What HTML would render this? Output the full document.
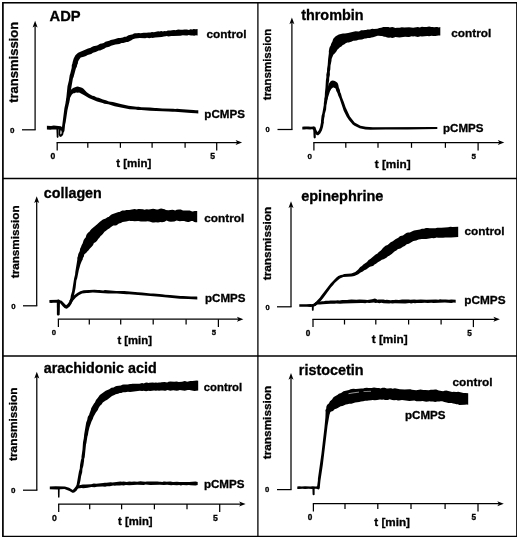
<!DOCTYPE html>
<html><head><meta charset="utf-8"><title>Platelet aggregation</title>
<style>
html,body{margin:0;padding:0;background:#fff;}
body{width:520px;height:539px;overflow:hidden;}
svg{display:block;}
svg text{font-family:"Liberation Sans", Arial, Helvetica, sans-serif;font-weight:bold;fill:#000;stroke:#000;stroke-width:0.32px;}
</style></head><body>
<svg width="520" height="539" viewBox="0 0 520 539">
<rect width="520" height="539" fill="#fff"/>
<g filter="url(#soft)">
<rect x="2.9" y="2.7" width="514.1" height="533.9" fill="none" stroke="#000" stroke-width="1.7"/>
<line x1="257.9" y1="2.7" x2="257.9" y2="536.6" stroke="#000" stroke-width="1.3"/>
<line x1="2.7" y1="178.5" x2="517" y2="178.5" stroke="#000" stroke-width="1.3"/>
<line x1="2.7" y1="356" x2="517" y2="356" stroke="#000" stroke-width="1.3"/>
<line x1="35.10" y1="25.30" x2="35.10" y2="129.80" stroke="#000" stroke-width="1.25"/>
<polygon points="35.10,20.70 32.60,27.50 35.10,25.90 37.60,27.50" fill="#000"/>
<line x1="22.00" y1="129.80" x2="35.70" y2="129.80" stroke="#000" stroke-width="1.25"/>
<text x="12.20" y="132.68" font-size="8.00" text-anchor="middle">0</text>
<text x="18.20" y="102.80" font-size="13.00" text-anchor="start" transform="rotate(-90 18.20 102.80)">transmission</text>
<text x="49.60" y="20.80" font-size="14.70" text-anchor="start">ADP</text>
<line x1="56.60" y1="142.60" x2="237.80" y2="142.60" stroke="#000" stroke-width="1.25"/>
<polygon points="242.10,142.60 235.60,140.10 237.20,142.60 235.60,145.10" fill="#000"/>
<line x1="57.20" y1="142.60" x2="57.20" y2="150.40" stroke="#000" stroke-width="1.25"/>
<line x1="87.80" y1="142.60" x2="87.80" y2="147.80" stroke="#000" stroke-width="1.25"/>
<line x1="120.40" y1="142.60" x2="120.40" y2="147.80" stroke="#000" stroke-width="1.25"/>
<line x1="152.10" y1="142.60" x2="152.10" y2="147.80" stroke="#000" stroke-width="1.25"/>
<line x1="185.10" y1="142.60" x2="185.10" y2="147.80" stroke="#000" stroke-width="1.25"/>
<line x1="216.70" y1="142.60" x2="216.70" y2="150.40" stroke="#000" stroke-width="1.25"/>
<text x="52.80" y="158.80" font-size="8.60" text-anchor="middle">0</text>
<text x="212.60" y="158.80" font-size="8.60" text-anchor="middle">5</text>
<text x="116.20" y="166.60" font-size="11.50" text-anchor="start">t [min]</text>
<text x="206.50" y="38.10" font-size="11.80" text-anchor="start">control</text>
<text x="204.30" y="117.50" font-size="11.60" text-anchor="start">pCMPS</text>
<path d="M51.1,125.9 46.9,125.7 46.9,129.6 50.3,129.7 52.0,129.4 56.2,129.6 58.7,129.4 60.5,129.7 61.7,129.1 62.2,128.3 61.9,126.9 60.8,126.2 53.7,125.6Z" fill="#000"/>
<path d="M56.8,127.2 56.4,128.0 56.7,137.0 57.0,137.6 57.6,137.9 58.2,137.6 58.5,137.0 58.4,128.0 58.2,127.4 57.8,127.1Z" fill="#000"/>
<path d="M59.2,129.1 58.7,129.8 58.5,134.4 59.6,136.4 60.9,136.9 62.6,135.4 63.2,134.4 63.7,131.7 63.6,130.6 62.1,128.5 60.9,128.3ZM60.7,134.6 60.3,133.4 60.5,130.6 61.2,130.2 61.8,131.5 61.4,133.7Z" fill="#000"/>
<path d="M64.4,108.2 61.5,131.0 61.9,132.0 62.9,132.4 63.4,132.3 64.1,131.8 64.5,130.5 65.1,124.5 65.7,122.1 67.4,110.6 69.2,102.4 69.0,101.0 67.8,100.3 66.5,100.5 65.8,101.7Z" fill="#000"/>
<path d="M71.7,67.7 70.3,73.6 69.7,75.3 68.9,80.4 67.5,86.3 66.4,96.9 65.7,102.0 66.2,103.3 67.1,103.8 68.5,103.5 69.3,102.3 70.6,91.9 72.9,78.6 73.6,77.0 75.8,68.8 76.9,66.6 77.2,64.7 77.8,63.8 78.1,61.6 78.9,60.0 80.7,57.4 82.9,57.1 84.5,56.4 86.0,56.0 87.6,54.9 91.2,54.1 93.0,52.7 95.7,52.1 98.8,50.6 100.1,50.4 104.6,48.4 106.0,47.6 109.2,46.8 111.1,45.7 115.4,44.6 119.4,44.0 121.6,43.0 123.3,43.0 126.5,42.1 128.0,42.0 131.9,40.1 132.8,39.3 135.2,38.4 139.8,38.0 145.2,38.2 147.0,37.8 149.3,38.3 151.3,37.8 152.5,37.9 155.1,37.5 161.8,37.0 163.9,36.4 165.8,36.3 166.7,36.0 168.5,36.4 169.8,36.3 171.3,35.9 173.3,36.1 180.5,35.7 182.8,35.3 186.1,35.6 187.5,35.5 188.5,35.1 191.0,35.5 192.6,35.4 194.2,35.7 195.9,35.2 197.6,35.4 197.6,29.0 195.8,29.2 193.5,29.0 192.5,29.4 190.3,29.3 189.0,29.9 186.9,29.4 184.5,29.4 182.6,29.8 180.9,29.8 178.1,29.4 175.6,30.2 174.1,30.1 171.9,30.3 171.0,30.6 167.9,30.6 166.1,31.2 164.5,30.9 162.8,31.4 161.3,31.1 159.4,31.4 158.1,31.3 153.9,32.2 151.9,32.1 150.5,32.6 148.5,32.4 146.6,32.8 143.6,32.7 140.5,33.2 138.8,33.0 136.9,33.3 135.1,33.2 133.8,33.5 132.9,34.2 128.5,35.3 126.1,36.7 124.5,36.8 122.9,37.4 120.1,38.0 118.2,38.0 114.3,39.3 110.7,40.0 109.2,40.7 105.4,41.8 103.7,42.9 101.9,43.5 100.1,43.7 98.5,44.8 97.1,45.4 93.3,46.3 91.3,47.3 90.7,47.8 88.0,48.4 78.1,52.7 75.4,55.2 73.7,58.6 72.6,62.2 72.5,63.3 71.8,65.1Z" fill="#000"/>
<path d="M73.1,88.0 70.9,89.7 68.5,92.9 66.7,98.5 66.1,101.7 66.3,102.8 67.0,103.3 67.8,103.4 68.7,102.8 70.0,97.9 71.7,94.7 72.7,93.8 73.4,93.2 74.4,93.2 76.0,92.5 77.8,92.8 79.1,92.6 83.8,94.9 88.8,98.1 97.1,101.4 102.6,103.0 104.4,103.7 108.3,104.3 114.6,106.2 129.6,109.2 135.5,109.5 137.9,110.0 141.1,110.0 150.0,110.7 168.5,111.4 172.6,111.8 174.9,111.7 191.1,113.0 195.8,113.2 198.3,113.5 198.3,110.2 197.9,110.2 195.9,110.2 193.6,109.9 189.6,109.8 179.2,109.1 177.4,108.8 175.1,109.1 173.4,108.7 162.3,108.4 156.5,107.9 154.9,108.1 150.0,107.5 141.2,107.2 138.7,106.8 136.4,106.8 128.6,105.7 120.7,104.1 112.9,102.0 109.0,101.4 105.9,100.2 103.0,99.6 98.6,97.8 96.9,97.4 94.0,96.1 92.4,95.7 89.2,93.9 86.8,92.2 83.5,88.8 82.0,87.7 77.8,86.6 76.4,86.8Z" fill="#000"/>
<line x1="291.90" y1="22.00" x2="291.90" y2="129.50" stroke="#000" stroke-width="1.25"/>
<polygon points="291.90,17.40 289.40,24.20 291.90,22.60 294.40,24.20" fill="#000"/>
<line x1="277.50" y1="129.50" x2="292.50" y2="129.50" stroke="#000" stroke-width="1.25"/>
<text x="267.60" y="132.20" font-size="7.50" text-anchor="middle">0</text>
<text x="271.30" y="100.20" font-size="11.50" text-anchor="start" transform="rotate(-90 271.30 100.20)">transmission</text>
<text x="301.20" y="19.50" font-size="14.40" text-anchor="start">thrombin</text>
<line x1="313.30" y1="142.60" x2="500.00" y2="142.60" stroke="#000" stroke-width="1.25"/>
<polygon points="504.30,142.60 497.80,140.10 499.40,142.60 497.80,145.10" fill="#000"/>
<line x1="313.90" y1="142.60" x2="313.90" y2="150.40" stroke="#000" stroke-width="1.25"/>
<line x1="345.80" y1="142.60" x2="345.80" y2="147.80" stroke="#000" stroke-width="1.25"/>
<line x1="378.00" y1="142.60" x2="378.00" y2="147.80" stroke="#000" stroke-width="1.25"/>
<line x1="411.50" y1="142.60" x2="411.50" y2="147.80" stroke="#000" stroke-width="1.25"/>
<line x1="445.40" y1="142.60" x2="445.40" y2="147.80" stroke="#000" stroke-width="1.25"/>
<line x1="478.10" y1="142.60" x2="478.10" y2="150.40" stroke="#000" stroke-width="1.25"/>
<text x="309.70" y="158.60" font-size="8.00" text-anchor="middle">0</text>
<text x="473.80" y="158.60" font-size="8.00" text-anchor="middle">5</text>
<text x="374.70" y="168.20" font-size="11.80" text-anchor="start">t [min]</text>
<text x="451.30" y="36.80" font-size="11.80" text-anchor="start">control</text>
<text x="443.00" y="132.00" font-size="11.60" text-anchor="start">pCMPS</text>
<path d="M305.9,126.6 304.1,126.5 302.3,126.7 302.3,129.4 304.1,129.5 306.6,129.3 310.1,129.6 311.8,129.3 313.5,129.5 314.4,129.2 315.0,128.3 314.8,127.1 313.8,126.4 310.9,126.7 308.4,126.5Z" fill="#000"/>
<path d="M313.7,126.8 313.2,127.8 313.6,137.3 313.9,138.1 314.7,138.4 315.5,138.1 315.8,137.3 315.6,127.8 315.4,127.1 314.9,126.7Z" fill="#000"/>
<path d="M312.6,127.1 312.2,127.7 312.3,128.5 313.5,130.0 314.8,133.1 316.3,134.8 317.4,135.3 318.3,135.2 320.2,133.6 321.9,130.4 323.0,126.9 323.7,122.8 323.6,122.0 323.1,121.3 322.3,121.1 321.5,121.3 321.1,121.7 320.1,127.0 319.0,130.0 317.6,132.1 317.1,131.6 315.7,128.5 314.4,127.1 313.5,126.7Z" fill="#000"/>
<path d="M325.5,87.2 324.9,93.1 324.8,96.1 323.8,103.5 323.8,104.9 322.3,113.5 321.6,115.8 321.0,120.9 321.1,123.0 321.6,123.6 322.3,123.8 323.2,123.4 323.6,122.7 324.2,117.9 324.6,116.4 324.8,114.0 326.1,109.4 326.4,105.2 326.8,103.8 327.7,97.9 328.7,82.8 329.2,80.3 329.2,77.9 329.9,74.7 329.8,71.8 330.3,69.5 330.5,65.4 331.5,60.8 331.6,58.9 333.3,54.8 334.2,54.1 336.2,51.8 337.3,49.7 339.0,48.3 339.9,47.2 341.4,46.4 342.8,45.0 344.1,44.4 345.7,43.2 347.3,42.5 348.7,42.4 351.9,41.4 353.1,40.7 354.1,40.8 356.6,40.5 358.7,39.7 362.0,39.4 364.8,38.6 366.0,38.6 367.7,38.1 369.9,38.0 371.4,37.4 373.1,37.3 377.6,35.7 378.7,35.7 381.0,36.1 382.1,35.9 384.1,36.7 385.2,36.7 387.2,37.6 389.0,37.8 390.4,37.6 392.2,37.9 394.3,37.5 395.3,36.9 399.4,37.5 405.1,36.7 408.3,37.1 409.2,37.0 411.5,36.2 413.1,36.5 414.5,36.3 417.9,37.0 420.4,36.3 421.9,36.6 427.3,36.0 429.1,36.2 431.5,35.7 433.2,36.0 435.6,36.1 438.4,35.4 440.3,35.5 440.3,27.0 438.8,27.6 437.3,27.0 436.4,26.9 434.1,27.2 432.4,26.9 431.3,27.0 429.1,26.5 426.8,27.0 424.0,27.1 421.9,26.8 419.7,27.4 417.9,27.0 413.1,27.7 409.1,27.3 404.3,27.6 401.8,27.2 399.7,27.7 397.0,27.7 395.4,28.0 393.3,27.2 392.2,27.1 389.8,27.5 388.4,27.1 384.2,26.9 383.3,27.0 381.3,27.8 379.4,28.0 377.3,28.8 373.9,29.1 372.3,28.8 371.4,28.9 370.0,29.4 367.4,29.5 366.1,30.0 365.1,29.9 363.3,30.3 361.1,30.3 359.0,31.4 355.5,31.2 348.1,33.1 345.0,33.5 342.9,33.5 338.8,34.4 335.7,36.2 333.5,38.5 333.0,39.5 332.3,41.7 331.4,43.2 330.5,46.0 330.0,46.6 329.4,48.0 328.8,51.2 328.9,53.1 328.1,59.2 327.7,65.0 327.1,68.8 327.0,71.5 326.3,74.7 326.4,77.1 325.9,80.3Z" fill="#000"/>
<path d="M328.9,83.8 326.1,92.5 324.6,98.8 324.8,99.9 325.5,100.4 326.0,100.5 326.8,100.2 327.2,99.9 329.8,91.8 331.2,88.9 333.0,87.5 333.7,87.6 335.6,88.6 336.3,91.0 337.5,93.2 338.2,95.5 339.6,98.4 343.7,110.7 346.7,116.7 348.9,120.0 352.7,124.6 354.5,125.7 359.6,128.3 365.4,129.4 370.4,129.7 385.8,129.4 407.5,129.4 437.3,129.0 437.3,127.0 435.0,126.9 372.9,127.2 365.8,126.8 360.5,125.7 354.6,122.5 349.9,116.6 345.6,107.3 343.8,101.9 342.0,97.5 340.9,93.5 340.2,92.2 339.9,89.9 338.8,87.4 338.3,84.8 337.6,83.0 336.8,82.2 334.9,81.1 332.9,80.5 331.5,80.8 330.4,81.5Z" fill="#000"/>
<line x1="36.70" y1="200.80" x2="36.70" y2="305.80" stroke="#000" stroke-width="1.25"/>
<polygon points="36.70,196.20 34.20,203.00 36.70,201.40 39.20,203.00" fill="#000"/>
<line x1="23.00" y1="305.80" x2="37.30" y2="305.80" stroke="#000" stroke-width="1.25"/>
<text x="13.30" y="308.61" font-size="7.80" text-anchor="middle">0</text>
<text x="19.40" y="278.20" font-size="11.70" text-anchor="start" transform="rotate(-90 19.40 278.20)">transmission</text>
<text x="43.80" y="197.50" font-size="14.30" text-anchor="start">collagen</text>
<line x1="57.80" y1="319.20" x2="239.10" y2="319.20" stroke="#000" stroke-width="1.25"/>
<polygon points="243.40,319.20 236.90,316.70 238.50,319.20 236.90,321.70" fill="#000"/>
<line x1="58.40" y1="319.20" x2="58.40" y2="327.00" stroke="#000" stroke-width="1.25"/>
<line x1="89.30" y1="319.20" x2="89.30" y2="324.40" stroke="#000" stroke-width="1.25"/>
<line x1="120.70" y1="319.20" x2="120.70" y2="324.40" stroke="#000" stroke-width="1.25"/>
<line x1="153.20" y1="319.20" x2="153.20" y2="324.40" stroke="#000" stroke-width="1.25"/>
<line x1="186.10" y1="319.20" x2="186.10" y2="324.40" stroke="#000" stroke-width="1.25"/>
<line x1="218.40" y1="319.20" x2="218.40" y2="327.00" stroke="#000" stroke-width="1.25"/>
<text x="54.00" y="334.90" font-size="7.70" text-anchor="middle">0</text>
<text x="213.90" y="334.90" font-size="7.70" text-anchor="middle">5</text>
<text x="117.40" y="343.50" font-size="11.30" text-anchor="start">t [min]</text>
<text x="204.30" y="222.30" font-size="11.80" text-anchor="start">control</text>
<text x="205.00" y="302.30" font-size="11.60" text-anchor="start">pCMPS</text>
<path d="M58.8,299.8 49.4,299.9 49.4,302.8 51.2,302.9 53.1,302.7 58.8,302.8 59.6,302.4 60.0,301.6 59.8,300.5Z" fill="#000"/>
<path d="M56.8,300.7 56.9,314.5 57.5,315.4 58.6,315.6 59.5,315.0 59.7,314.2 60.0,301.0 59.7,300.1 58.7,299.4 57.5,299.7Z" fill="#000"/>
<path d="M57.5,300.3 57.1,301.3 57.5,302.3 60.2,303.2 62.7,306.3 64.5,308.1 66.3,308.7 67.2,308.4 69.7,306.5 71.7,303.4 72.8,300.5 72.5,299.7 71.9,299.1 71.0,299.0 70.5,299.3 69.9,299.9 69.0,302.0 67.6,304.1 66.1,305.3 61.7,300.8 58.8,299.9 58.2,299.9Z" fill="#000"/>
<path d="M77.3,259.7 75.3,272.1 75.1,274.6 74.1,278.4 72.1,291.2 70.8,295.7 70.5,298.1 69.7,300.5 69.9,301.6 70.8,302.2 71.9,302.0 72.5,301.1 72.9,298.7 73.8,296.3 74.8,291.7 75.6,287.7 76.4,280.5 77.2,278.3 78.8,270.2 80.4,264.5 81.8,261.0 82.7,259.5 82.9,258.1 83.9,256.4 84.2,254.6 86.3,252.8 87.5,251.2 88.4,250.5 89.7,248.7 91.9,246.4 93.1,245.0 93.9,243.1 95.1,242.5 96.6,241.3 97.4,240.3 98.1,238.9 99.2,237.9 100.6,235.9 101.9,234.9 103.4,233.2 104.5,231.7 105.7,231.1 107.5,229.6 109.6,228.2 111.0,226.9 113.3,225.5 115.5,225.5 116.6,225.2 117.6,224.6 118.9,223.5 120.9,223.1 122.6,222.0 126.1,221.5 129.3,220.7 130.3,221.0 132.8,221.0 134.6,221.3 138.2,221.0 141.0,221.5 145.9,221.6 147.6,221.3 149.3,221.4 152.6,222.4 153.9,222.5 155.9,222.2 158.0,222.6 160.5,222.1 162.0,222.3 163.3,222.1 164.6,221.7 166.5,220.6 168.9,221.5 170.8,221.7 174.4,221.5 176.6,220.5 178.6,221.1 179.7,221.2 181.9,220.9 184.2,220.9 185.5,221.6 187.7,222.0 188.9,221.9 191.3,221.0 192.7,220.9 194.4,221.9 195.5,222.2 197.2,222.3 197.2,210.9 194.7,211.0 192.8,211.6 192.2,211.6 189.7,210.4 183.0,210.5 180.8,209.6 178.9,209.4 176.7,209.8 175.2,210.5 173.6,210.0 172.5,209.8 168.3,210.3 165.9,210.0 164.6,209.3 163.3,208.9 161.2,208.6 159.9,208.8 158.0,209.5 156.7,209.6 154.4,208.9 153.1,208.8 150.3,209.2 148.7,209.6 146.7,209.3 144.3,209.7 143.1,209.3 139.4,208.9 138.2,209.0 136.8,209.5 134.6,209.1 129.2,210.0 127.4,209.9 126.3,210.0 124.9,210.5 122.3,210.5 121.3,210.9 119.5,212.0 118.5,212.1 112.1,214.3 111.1,214.8 108.6,217.0 107.4,217.3 105.7,218.4 102.9,219.5 99.6,221.9 97.2,224.3 91.5,228.9 90.2,230.5 89.6,231.6 88.0,232.7 86.8,234.2 86.3,235.3 85.7,237.6 84.9,238.3 83.7,240.0 82.6,243.5 81.7,244.9 81.0,247.0 80.1,248.7 79.8,251.1 78.3,254.1 77.9,256.2 77.3,257.8Z" fill="#000"/>
<path d="M92.8,292.6 108.1,293.4 116.9,293.5 126.6,294.3 129.0,294.2 159.5,296.8 179.7,298.8 188.5,299.1 197.3,299.6 197.3,296.7 196.6,296.6 191.1,296.6 182.9,296.0 180.5,296.1 170.0,294.9 165.4,294.7 162.0,294.2 156.5,293.8 153.2,293.4 150.8,293.4 141.9,292.5 137.9,292.3 124.2,291.1 116.2,290.9 104.9,290.1 103.2,290.4 99.3,290.0 97.7,290.1 94.4,289.8 83.7,290.3 80.3,291.3 77.2,292.9 73.9,295.5 69.9,300.1 69.7,300.8 69.8,301.4 70.6,302.1 71.1,302.2 71.9,302.0 75.9,297.6 78.8,295.2 82.1,293.6 86.4,292.9 88.0,293.0Z" fill="#000"/>
<line x1="291.00" y1="205.80" x2="291.00" y2="306.80" stroke="#000" stroke-width="1.25"/>
<polygon points="291.00,201.20 288.50,208.00 291.00,206.40 293.50,208.00" fill="#000"/>
<line x1="277.00" y1="306.80" x2="291.60" y2="306.80" stroke="#000" stroke-width="1.25"/>
<text x="267.50" y="309.50" font-size="7.50" text-anchor="middle">0</text>
<text x="271.20" y="280.20" font-size="11.80" text-anchor="start" transform="rotate(-90 271.20 280.20)">transmission</text>
<text x="301.20" y="201.00" font-size="14.50" text-anchor="start">epinephrine</text>
<line x1="312.40" y1="319.30" x2="495.60" y2="319.30" stroke="#000" stroke-width="1.25"/>
<polygon points="499.90,319.30 493.40,316.80 495.00,319.30 493.40,321.80" fill="#000"/>
<line x1="313.00" y1="319.30" x2="313.00" y2="327.10" stroke="#000" stroke-width="1.25"/>
<line x1="344.50" y1="319.30" x2="344.50" y2="324.50" stroke="#000" stroke-width="1.25"/>
<line x1="375.80" y1="319.30" x2="375.80" y2="324.50" stroke="#000" stroke-width="1.25"/>
<line x1="408.60" y1="319.30" x2="408.60" y2="324.50" stroke="#000" stroke-width="1.25"/>
<line x1="441.10" y1="319.30" x2="441.10" y2="324.50" stroke="#000" stroke-width="1.25"/>
<line x1="473.40" y1="319.30" x2="473.40" y2="327.10" stroke="#000" stroke-width="1.25"/>
<text x="308.00" y="335.80" font-size="8.20" text-anchor="middle">0</text>
<text x="469.60" y="335.80" font-size="8.20" text-anchor="middle">5</text>
<text x="371.70" y="343.40" font-size="11.80" text-anchor="start">t [min]</text>
<text x="464.50" y="235.00" font-size="11.80" text-anchor="start">control</text>
<text x="464.30" y="304.30" font-size="11.80" text-anchor="start">pCMPS</text>
<path d="M306.2,304.3 299.3,304.2 299.3,306.8 307.0,306.7 310.5,307.0 313.3,306.7 316.0,305.4 317.1,304.5 317.3,303.8 317.0,302.8 316.0,302.4 314.5,303.1 312.7,304.3 310.5,304.0Z" fill="#000"/>
<path d="M312.4,304.1 312.0,304.4 311.8,305.0 311.9,310.0 312.2,310.6 312.8,310.9 313.4,310.6 313.7,310.2 313.8,305.0 313.4,304.2Z" fill="#000"/>
<path d="M336.4,277.5 330.4,283.8 321.0,295.9 319.8,297.8 313.6,304.3 313.4,305.2 313.9,306.0 314.6,306.2 315.3,306.0 320.8,300.9 323.6,297.6 331.1,287.2 333.2,285.1 334.7,282.9 337.5,280.4 339.9,278.6 343.3,277.1 351.7,276.5 354.4,276.0 358.3,274.2 360.6,272.6 362.8,271.6 364.3,270.3 366.2,269.6 369.5,267.1 370.8,266.5 372.0,266.3 373.4,265.7 374.5,264.6 376.0,263.8 377.9,262.3 380.1,261.1 381.8,259.7 383.6,259.2 386.4,257.7 388.0,256.3 389.2,255.7 391.7,253.9 394.8,251.3 396.4,250.6 397.7,249.3 398.4,248.9 400.3,248.5 401.9,247.6 402.9,246.7 404.7,246.0 406.7,244.2 408.8,243.7 413.4,241.1 416.2,240.6 418.6,239.4 421.8,238.9 426.2,239.1 432.0,238.1 433.4,238.2 435.2,238.1 436.6,237.5 438.2,237.8 443.1,237.8 445.2,237.4 451.1,237.4 458.2,237.0 458.2,226.7 452.7,227.0 450.3,226.7 448.1,227.2 441.4,227.8 437.2,227.7 435.4,228.3 429.7,228.2 427.8,227.9 425.9,228.1 424.0,228.7 421.9,228.7 420.0,229.5 414.0,230.5 412.3,231.2 409.8,232.6 408.0,232.6 406.3,233.1 402.9,235.4 400.5,236.1 399.6,236.6 398.3,237.8 395.4,239.2 392.8,241.3 390.7,242.2 387.6,244.9 385.5,245.8 382.9,248.0 381.8,249.6 380.3,251.0 378.8,252.0 377.5,253.4 375.6,254.4 370.3,259.0 368.6,260.0 367.0,261.9 363.3,264.5 361.9,266.1 360.2,267.1 358.2,269.5 355.3,272.1 351.3,273.6 344.2,273.9 342.5,274.7 340.8,275.0 338.3,276.1Z" fill="#000"/>
<path d="M342.2,300.1 339.4,300.4 337.7,300.3 336.0,300.6 330.5,300.5 328.8,300.8 325.6,300.8 323.9,301.2 322.1,301.2 318.9,301.7 317.4,302.2 315.5,302.2 314.9,302.7 314.7,303.7 315.3,304.5 316.0,304.7 317.5,304.4 320.0,304.6 322.5,304.2 330.5,303.8 334.5,303.8 336.2,303.5 340.2,303.7 343.4,303.4 361.1,303.1 362.9,302.9 365.2,303.2 367.0,302.8 369.2,303.0 373.9,302.6 375.5,303.0 377.2,302.7 379.5,303.2 381.3,302.8 383.5,303.2 389.2,303.4 390.7,303.2 392.4,303.6 394.8,303.2 405.3,303.5 409.5,303.1 411.0,303.4 413.3,302.9 415.0,303.3 416.8,302.9 421.5,303.0 424.7,302.8 427.9,302.9 431.3,302.7 433.6,302.9 444.9,302.6 451.3,303.0 453.8,302.6 455.7,302.7 455.7,299.7 451.3,299.4 449.0,299.7 445.7,299.4 441.9,299.5 440.0,299.2 438.4,299.7 436.0,299.4 426.3,299.7 420.7,299.4 416.7,299.8 414.2,299.4 410.3,299.8 408.6,299.6 402.1,299.6 399.0,300.0 395.7,299.8 394.1,300.1 392.4,299.9 390.7,300.2 386.8,299.8 385.3,299.9 383.5,299.6 378.7,299.5 377.3,299.8 376.3,299.0 374.8,298.6 372.1,299.3 367.4,300.0 365.2,299.7 359.5,299.6 356.4,299.8 351.5,299.6 348.7,299.7 347.2,300.1Z" fill="#000"/>
<line x1="36.80" y1="376.30" x2="36.80" y2="490.20" stroke="#000" stroke-width="1.25"/>
<polygon points="36.80,371.70 34.30,378.50 36.80,376.90 39.30,378.50" fill="#000"/>
<line x1="23.00" y1="490.20" x2="37.40" y2="490.20" stroke="#000" stroke-width="1.25"/>
<text x="13.20" y="493.08" font-size="8.00" text-anchor="middle">0</text>
<text x="17.10" y="460.90" font-size="11.80" text-anchor="start" transform="rotate(-90 17.10 460.90)">transmission</text>
<text x="43.80" y="372.80" font-size="14.30" text-anchor="start">arachidonic acid</text>
<line x1="58.10" y1="504.10" x2="241.30" y2="504.10" stroke="#000" stroke-width="1.25"/>
<polygon points="245.60,504.10 239.10,501.60 240.70,504.10 239.10,506.60" fill="#000"/>
<line x1="58.70" y1="504.10" x2="58.70" y2="511.90" stroke="#000" stroke-width="1.25"/>
<line x1="89.70" y1="504.10" x2="89.70" y2="509.30" stroke="#000" stroke-width="1.25"/>
<line x1="121.60" y1="504.10" x2="121.60" y2="509.30" stroke="#000" stroke-width="1.25"/>
<line x1="154.40" y1="504.10" x2="154.40" y2="509.30" stroke="#000" stroke-width="1.25"/>
<line x1="187.00" y1="504.10" x2="187.00" y2="509.30" stroke="#000" stroke-width="1.25"/>
<line x1="219.70" y1="504.10" x2="219.70" y2="511.90" stroke="#000" stroke-width="1.25"/>
<text x="54.40" y="521.30" font-size="8.70" text-anchor="middle">0</text>
<text x="215.40" y="521.30" font-size="8.70" text-anchor="middle">5</text>
<text x="118.10" y="525.30" font-size="11.30" text-anchor="start">t [min]</text>
<text x="203.80" y="391.00" font-size="11.30" text-anchor="start">control</text>
<text x="203.90" y="487.80" font-size="11.60" text-anchor="start">pCMPS</text>
<path d="M49.8,489.2 57.2,489.4 64.4,489.1 69.5,491.1 72.4,492.7 73.1,492.8 74.3,492.4 76.5,490.7 78.9,487.0 79.2,485.9 78.9,485.4 78.3,484.8 77.4,484.7 76.9,485.0 74.2,488.6 72.8,490.0 69.1,487.8 64.9,486.5 55.6,486.3 49.8,486.4Z" fill="#000"/>
<path d="M58.3,487.3 57.9,488.0 58.0,497.0 58.3,497.5 58.8,497.8 59.3,497.5 59.5,497.0 59.7,488.0 59.5,487.5 59.1,487.2Z" fill="#000"/>
<path d="M82.5,449.5 81.5,456.6 81.5,458.5 81.0,459.8 80.0,465.3 79.8,468.6 78.9,471.7 76.4,485.9 76.6,487.0 77.4,487.5 78.5,487.3 79.0,486.7 80.5,480.2 81.1,476.2 82.2,472.3 82.4,469.0 83.3,466.0 84.1,460.4 84.1,458.9 84.7,457.3 86.0,444.5 86.4,442.9 87.4,436.6 87.9,434.9 88.4,431.8 89.4,427.4 91.5,421.5 93.0,418.6 93.4,416.9 95.9,412.5 97.8,410.1 98.6,408.0 100.0,405.8 101.5,404.5 102.8,402.6 105.7,400.5 106.9,399.9 112.0,396.0 114.4,395.1 115.7,394.3 118.1,393.8 119.7,392.9 121.3,392.9 123.0,392.3 125.3,392.3 127.9,391.7 130.1,391.9 139.8,390.8 142.1,391.1 143.8,390.7 146.1,391.2 148.3,390.8 150.2,390.9 154.1,390.4 155.8,390.7 157.8,390.5 159.0,390.7 160.9,390.4 163.0,390.4 164.6,390.8 165.5,390.7 167.5,389.9 170.3,390.7 173.2,390.3 176.7,390.7 178.4,390.6 179.7,390.0 184.7,390.7 187.7,390.0 189.5,390.0 194.4,390.9 198.2,390.5 198.2,380.7 196.8,380.4 192.4,381.1 190.2,381.0 187.1,381.8 185.7,381.2 184.7,381.1 182.1,381.7 178.7,381.9 176.7,381.4 174.2,381.8 170.3,381.5 168.5,381.8 167.2,382.5 164.6,382.0 161.4,382.3 160.5,382.6 159.0,382.4 157.4,382.7 155.8,382.5 154.5,382.7 152.6,382.5 149.3,382.7 148.6,382.9 146.9,382.6 145.3,382.7 143.7,383.5 142.1,383.1 139.5,383.7 132.5,383.8 131.2,384.1 130.1,383.9 127.7,384.5 123.7,384.4 122.2,384.7 120.9,385.4 116.6,386.1 115.1,386.6 113.6,387.5 111.4,387.8 109.3,389.2 105.7,390.7 99.8,395.0 97.7,398.1 96.0,400.0 94.9,402.4 94.0,403.4 91.2,408.3 90.8,410.0 89.4,413.7 89.1,415.0 88.2,416.0 87.7,417.2 87.2,420.1 86.2,422.4 84.2,434.2 83.8,438.2 83.0,442.2Z" fill="#000"/>
<path d="M103.2,483.1 96.2,483.8 93.8,483.5 91.2,484.2 85.7,484.6 82.9,484.4 77.1,485.7 76.3,486.5 76.3,487.4 76.7,488.1 77.4,488.5 81.6,488.1 83.3,488.3 87.7,487.8 91.4,487.0 94.6,487.2 97.0,486.8 102.6,486.5 105.1,486.8 107.0,486.2 109.9,486.2 113.1,485.6 114.7,485.7 116.4,485.4 119.6,485.5 121.9,485.2 123.6,485.4 125.9,485.0 129.2,485.2 137.2,484.7 143.8,485.0 145.6,484.5 150.2,484.9 159.9,484.7 164.0,485.1 167.1,484.8 171.2,485.3 173.0,484.9 176.9,485.3 179.2,485.0 180.9,485.4 182.7,485.1 186.6,485.3 188.9,485.0 190.6,485.3 195.5,485.4 197.7,485.0 197.7,481.9 195.5,481.5 189.1,482.1 187.4,481.9 179.5,482.1 176.9,481.8 173.0,481.9 170.4,481.6 166.5,481.8 164.8,481.5 163.6,481.5 162.3,481.9 160.7,481.7 159.3,481.8 157.5,481.4 149.3,481.6 147.0,481.4 145.3,481.8 142.4,481.6 140.5,481.2 137.2,481.8 134.1,481.4 131.7,481.7 129.2,481.6 126.8,482.0 123.6,481.5 122.0,481.8 120.4,481.6 112.4,482.5 110.7,482.2 106.6,482.7 104.7,482.7Z" fill="#000"/>
<line x1="291.00" y1="377.50" x2="291.00" y2="489.60" stroke="#000" stroke-width="1.25"/>
<polygon points="291.00,372.90 288.50,379.70 291.00,378.10 293.50,379.70" fill="#000"/>
<line x1="277.00" y1="489.60" x2="291.60" y2="489.60" stroke="#000" stroke-width="1.25"/>
<text x="267.10" y="492.37" font-size="7.70" text-anchor="middle">0</text>
<text x="271.20" y="459.20" font-size="11.80" text-anchor="start" transform="rotate(-90 271.20 459.20)">transmission</text>
<text x="298.80" y="374.80" font-size="14.40" text-anchor="start">ristocetin</text>
<line x1="312.80" y1="503.70" x2="499.50" y2="503.70" stroke="#000" stroke-width="1.25"/>
<polygon points="503.80,503.70 497.30,501.20 498.90,503.70 497.30,506.20" fill="#000"/>
<line x1="313.40" y1="503.70" x2="313.40" y2="511.50" stroke="#000" stroke-width="1.25"/>
<line x1="345.00" y1="503.70" x2="345.00" y2="508.90" stroke="#000" stroke-width="1.25"/>
<line x1="377.80" y1="503.70" x2="377.80" y2="508.90" stroke="#000" stroke-width="1.25"/>
<line x1="411.00" y1="503.70" x2="411.00" y2="508.90" stroke="#000" stroke-width="1.25"/>
<line x1="445.10" y1="503.70" x2="445.10" y2="508.90" stroke="#000" stroke-width="1.25"/>
<line x1="478.00" y1="503.70" x2="478.00" y2="511.50" stroke="#000" stroke-width="1.25"/>
<text x="310.00" y="520.20" font-size="8.20" text-anchor="middle">0</text>
<text x="473.90" y="520.20" font-size="8.20" text-anchor="middle">5</text>
<text x="374.30" y="526.40" font-size="11.70" text-anchor="start">t [min]</text>
<text x="452.50" y="386.00" font-size="11.80" text-anchor="start">control</text>
<text x="405.00" y="419.00" font-size="11.60" text-anchor="start">pCMPS</text>
<path d="M308.6,488.7 312.0,489.0 315.4,488.8 318.3,488.9 319.1,488.3 319.3,487.3 319.0,486.6 318.0,486.2 315.5,486.5 312.8,486.2 310.3,486.4 305.1,486.2 301.7,486.5 299.1,486.3 297.3,486.4 297.3,488.9 299.1,489.0 302.4,488.7 305.1,489.0Z" fill="#000"/>
<path d="M313.1,487.0 312.6,487.4 312.4,488.0 312.6,494.3 312.9,495.0 313.6,495.3 314.3,495.0 314.6,494.5 314.6,488.0 314.1,487.1Z" fill="#000"/>
<path d="M321.4,454.0 317.9,478.8 317.9,480.6 316.9,488.0 317.3,489.0 318.3,489.4 319.1,489.2 319.7,488.3 320.4,480.9 322.8,464.9 327.5,426.0 329.4,414.9 330.7,411.0 330.7,410.1 330.3,409.1 329.6,408.4 328.7,408.1 327.7,408.1 326.8,408.4 326.1,409.1 325.7,410.1 325.4,417.6 324.4,428.0Z" fill="#000"/>
<path d="M349.0,390.1 343.5,391.3 341.1,392.9 338.8,393.8 337.7,394.8 334.2,396.7 333.3,397.4 332.0,399.4 330.0,401.3 328.8,403.5 327.7,404.3 326.7,405.7 326.3,407.1 326.3,408.7 325.8,409.5 325.6,410.5 325.8,411.5 326.4,412.3 327.7,413.0 329.2,412.9 330.5,411.7 333.0,410.9 334.6,409.2 336.8,408.6 338.6,407.4 340.7,406.3 342.5,405.9 345.8,404.5 347.5,404.3 349.2,403.7 351.4,403.7 355.2,402.4 359.2,402.0 361.0,401.4 363.2,401.3 365.1,400.8 367.2,400.7 368.3,400.4 371.2,400.3 372.4,400.0 374.8,400.3 377.2,400.1 380.0,399.5 382.0,399.7 383.7,399.6 384.9,400.0 386.9,400.1 388.0,400.0 389.6,399.3 390.5,399.4 392.2,400.0 394.1,400.3 396.3,399.9 397.8,400.5 398.9,400.6 402.0,400.0 409.4,400.9 414.4,400.5 416.3,401.3 420.6,401.3 422.5,401.1 426.2,401.7 428.2,401.6 429.4,401.2 430.7,401.6 433.0,401.6 435.1,402.0 437.2,401.6 439.4,401.6 440.6,401.2 442.2,401.3 444.4,402.1 446.6,402.4 448.4,403.1 451.6,403.0 453.1,403.6 454.8,403.7 456.3,404.2 457.8,404.3 459.4,404.9 464.7,404.8 466.9,404.4 468.2,404.8 468.2,393.3 465.5,392.9 463.5,393.1 459.5,391.9 458.3,391.8 456.2,392.0 453.5,391.7 452.2,391.9 446.3,390.5 444.4,390.8 443.1,391.2 438.7,390.5 436.3,389.5 435.1,389.4 433.1,389.8 430.7,389.8 428.9,390.3 425.4,390.0 423.3,390.1 420.6,389.6 416.2,390.2 411.9,389.8 410.5,389.3 409.4,389.2 404.7,389.6 399.9,389.3 394.9,388.3 392.6,388.8 391.2,388.3 390.1,388.2 387.9,388.6 386.7,388.5 384.8,387.8 383.6,387.7 382.5,387.8 380.4,388.5 379.2,388.1 377.1,388.1 374.0,387.6 371.6,388.0 368.6,388.1 366.8,387.7 364.7,388.0 363.2,388.5 361.2,388.5 355.9,389.1 353.2,388.7 350.5,389.3Z" fill="#000"/>
<path d="M348.5,393.7 L353,392.9 L359,392.1" fill="none" stroke="#fff" stroke-width="0.6"/>
<path d="M363.5,391.6 L371,391.3" fill="none" stroke="#fff" stroke-width="0.5"/>
</g>
<defs><filter id="soft" x="0" y="0" width="100%" height="100%"><feGaussianBlur stdDeviation="0.35"/></filter></defs>
</svg>
</body></html>
